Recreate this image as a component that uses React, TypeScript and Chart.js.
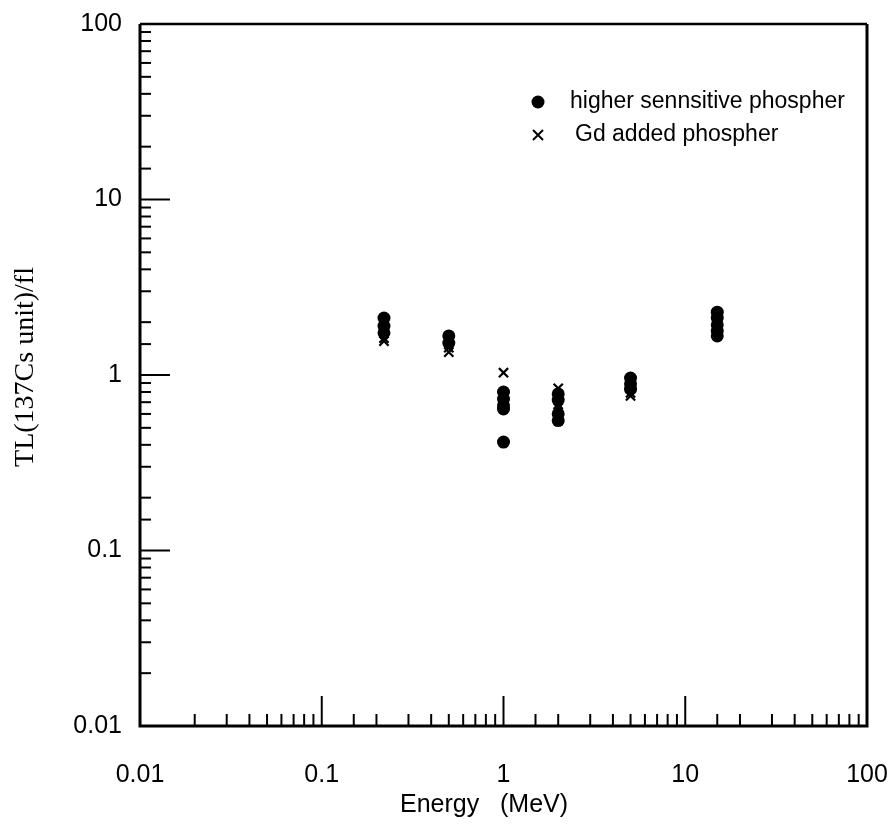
import React, { useEffect, useRef } from 'react';
import { Chart, registerables } from 'chart.js';

Chart.register(...registerables);

// Decade tick labels
const xTickLabels = ['0.01', '0.1', '1', '10', '100'];
const yTickLabels = ['0.01', '0.1', '1', '10', '100'];

// higher sensitive phosphor (filled circles)
const circleEnergy = [0.22, 0.22, 0.22, 0.5, 0.5, 1, 1, 1, 1, 1, 2, 2, 2, 2, 5, 5, 5, 15, 15, 15, 15, 15];
const circleTL = [2.11, 1.9, 1.74, 1.67, 1.52, 0.8, 0.73, 0.67, 0.64, 0.415, 0.78, 0.72, 0.6, 0.55, 0.96, 0.89, 0.83, 2.28, 2.11, 1.93, 1.78, 1.67];

// Gd added phosphor (crosses)
const crossEnergy = [0.22, 0.22, 0.5, 0.5, 1, 2, 2, 2, 5, 5];
const crossTL = [1.62, 1.56, 1.43, 1.35, 1.03, 0.84, 0.68, 0.65, 0.79, 0.76];

const legendLabels = ['higher sennsitive phospher', 'Gd added phospher'];

const xTitle = 'Energy   (MeV)';
const yTitle = 'TL(137Cs unit)/fl';

const SANS = '"Liberation Sans", Arial, Helvetica, sans-serif';
const SERIF = '"Liberation Serif", "Times New Roman", serif';

function decadeLabel(value: number, labels: string[], minExp: number): string {
  const l = Math.log10(value);
  const r = Math.round(l);
  if (Math.abs(l - r) < 1e-6) {
    const idx = r - minExp;
    return labels[idx] ?? '';
  }
  return '';
}

const framePlugin = {
  id: 'frameTicks',
  afterDatasetsDraw(chart: any) {
    const { ctx, chartArea } = chart;
    const { left, right, top, bottom } = chartArea;
    ctx.save();
    ctx.strokeStyle = '#000';
    ctx.lineCap = 'butt';
    ctx.lineWidth = 3;
    ctx.beginPath();
    ctx.moveTo(left, top);
    ctx.lineTo(left, bottom);
    ctx.lineTo(right, bottom);
    ctx.lineTo(right, top);
    ctx.stroke();
    ctx.lineWidth = 2.5;
    ctx.beginPath();
    ctx.moveTo(left, top);
    ctx.lineTo(right, top);
    ctx.stroke();

    const isMajor = (v: number) => {
      const l = Math.log10(v);
      return Math.abs(l - Math.round(l)) < 1e-6;
    };
    const xs = chart.scales.x;
    ctx.lineWidth = 2;
    xs.ticks.forEach((t: any) => {
      const px = xs.getPixelForValue(t.value);
      if (px <= left + 1 || px >= right - 1) return;
      const len = isMajor(t.value) ? 30 : 12;
      ctx.beginPath();
      ctx.moveTo(px, bottom);
      ctx.lineTo(px, bottom - len);
      ctx.stroke();
    });
    const ys = chart.scales.y;
    ys.ticks.forEach((t: any) => {
      const py = ys.getPixelForValue(t.value);
      if (py <= top + 1 || py >= bottom - 1) return;
      const len = isMajor(t.value) ? 30 : 11;
      ctx.beginPath();
      ctx.moveTo(left, py);
      ctx.lineTo(left + len, py);
      ctx.stroke();
    });
    ctx.restore();
  },
};

const textPlugin = {
  id: 'texts',
  afterDraw(chart: any) {
    const { ctx, chartArea } = chart;
    ctx.save();
    ctx.fillStyle = '#000';
    ctx.strokeStyle = '#000';
    // legend
    const x0 = chartArea.left + 398;
    const y0 = chartArea.top + 78;
    ctx.beginPath();
    ctx.arc(x0, y0, 6.5, 0, Math.PI * 2);
    ctx.fill();
    const cy = y0 + 33;
    ctx.lineWidth = 2;
    ctx.beginPath();
    ctx.moveTo(x0 - 5, cy - 5);
    ctx.lineTo(x0 + 5, cy + 5);
    ctx.moveTo(x0 + 5, cy - 5);
    ctx.lineTo(x0 - 5, cy + 5);
    ctx.stroke();
    ctx.font = `23px ${SANS}`;
    ctx.textBaseline = 'middle';
    ctx.textAlign = 'left';
    ctx.fillText(legendLabels[0], x0 + 32, y0);
    ctx.fillText(legendLabels[1], x0 + 37, cy);

    // x title
    ctx.font = `25px ${SANS}`;
    ctx.textAlign = 'left';
    ctx.fillText(xTitle, chartArea.left + 260, chartArea.bottom + 79);

    // y title
    ctx.font = `28px ${SERIF}`;
    ctx.translate(26, (chartArea.top + chartArea.bottom) / 2 - 8);
    ctx.rotate(-Math.PI / 2);
    ctx.textAlign = 'center';
    ctx.fillText(yTitle, 0, 0);
    ctx.restore();
  },
};

export default function App() {
  const canvasRef = useRef<HTMLCanvasElement | null>(null);

  useEffect(() => {
    if (!canvasRef.current) return;
    const chart = new Chart(canvasRef.current, {
      type: 'scatter',
      data: {
        datasets: [
          {
            label: legendLabels[0],
            data: circleEnergy.map((e, i) => ({ x: e, y: circleTL[i] })),
            pointStyle: 'circle',
            pointRadius: 6.5,
            backgroundColor: '#000',
            borderColor: '#000',
            borderWidth: 0,
          },
          {
            label: legendLabels[1],
            data: crossEnergy.map((e, i) => ({ x: e, y: crossTL[i] })),
            pointStyle: 'crossRot',
            pointRadius: 6.5,
            backgroundColor: '#000',
            borderColor: '#000',
            borderWidth: 2.2,
          },
        ],
      },
      options: {
        animation: false,
        responsive: false,
        maintainAspectRatio: false,
        events: [],
        layout: { padding: { top: 24, right: 26, left: 0, bottom: 0 } },
        plugins: {
          legend: { display: false },
          tooltip: { enabled: false },
        },
        scales: {
          x: {
            type: 'logarithmic',
            min: 0.01,
            max: 100,
            grid: { display: false },
            border: { display: false },
            afterFit: (s: any) => {
              s.height = 104;
              s.paddingLeft = 0;
              s.paddingRight = 0;
            },
            ticks: {
              autoSkip: false,
              maxRotation: 0,
              padding: 26,
              color: '#000',
              font: { family: SANS, size: 25 },
              callback: (v: any) => decadeLabel(Number(v), xTickLabels, -2),
            },
          },
          y: {
            type: 'logarithmic',
            min: 0.01,
            max: 100,
            grid: { display: false },
            border: { display: false },
            afterFit: (s: any) => {
              s.width = 140;
              s.paddingTop = 0;
              s.paddingBottom = 0;
            },
            ticks: {
              autoSkip: false,
              padding: 10,
              color: '#000',
              font: { family: SANS, size: 25 },
              callback: (v: any) => decadeLabel(Number(v), yTickLabels, -2),
            },
          },
        },
      },
      plugins: [framePlugin, textPlugin],
    });
    return () => chart.destroy();
  }, []);

  return (
    <div style={{ position: 'absolute', left: 0, top: 0, width: 893, height: 830, background: '#fff' }}>
      <canvas ref={canvasRef} width={893} height={830} style={{ display: 'block' }} />
    </div>
  );
}
